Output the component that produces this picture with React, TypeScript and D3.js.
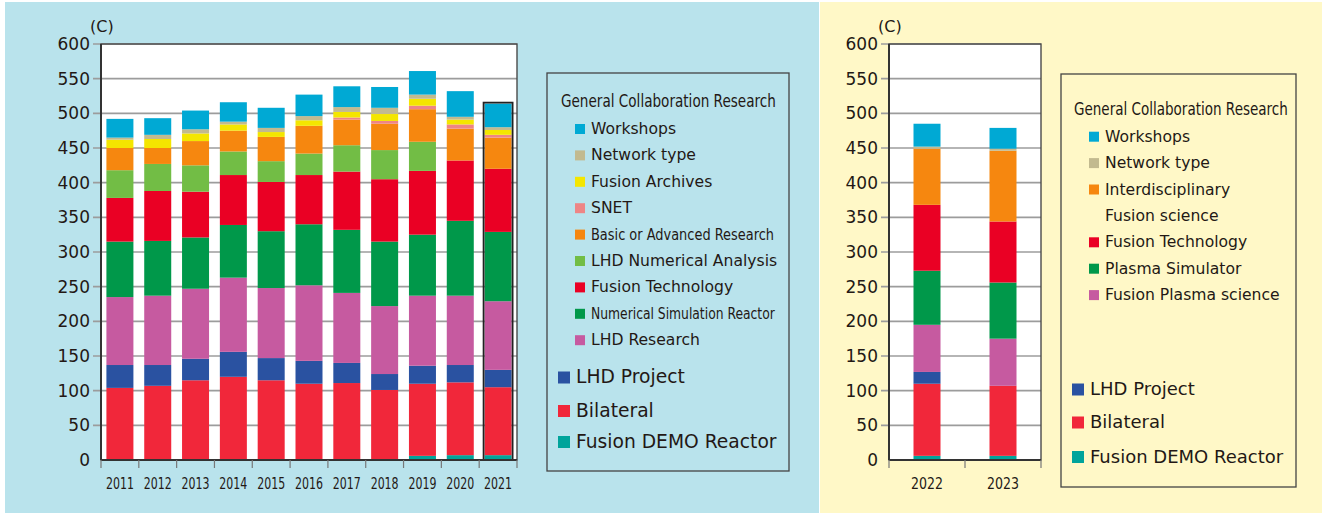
import React, { useRef, useEffect } from 'react'
import * as d3 from 'd3'

// ---- left panel: 2011-2021 ----
const yearsA = ['2011', '2012', '2013', '2014', '2015', '2016', '2017', '2018', '2019', '2020', '2021']
// stack order, bottom first
const demoA = [0, 0, 0, 0, 0, 0, 0, 0, 6, 7, 7]
const bilateralA = [104, 107, 115, 120, 115, 110, 111, 101, 104, 105, 98]
const lhdProjectA = [33, 30, 31, 36, 32, 33, 29, 23, 26, 25, 25]
const lhdResearchA = [98, 100, 101, 107, 101, 109, 101, 98, 101, 100, 99]
const numSimReactorA = [80, 79, 74, 76, 82, 88, 91, 93, 88, 108, 100]
const fusionTechA = [63, 72, 66, 72, 71, 71, 84, 90, 92, 87, 91]
const lhdNumericalA = [40, 39, 38, 34, 30, 31, 38, 42, 42, 0, 0]
const basicAdvancedA = [32, 23, 35, 30, 35, 40, 37, 38, 47, 46, 45]
const snetA = [0, 0, 0, 0, 0, 0, 3, 4, 5, 6, 4]
const archivesA = [12, 13, 11, 9, 7, 8, 8, 10, 10, 7, 7]
const networkA = [3, 6, 6, 4, 6, 6, 7, 9, 6, 4, 4]
const workshopsA = [27, 24, 27, 28, 29, 31, 30, 30, 34, 37, 34]

// ---- right panel: 2022-2023 ----
const yearsB = ['2022', '2023']
const demoB = [6, 6]
const bilateralB = [104, 101]
const lhdProjectB = [17, 0]
const plasmaScienceB = [68, 68]
const plasmaSimB = [78, 81]
const fusionTechB = [95, 88]
const interdiscB = [81, 102]
const networkB = [3, 3]
const workshopsB = [33, 30]

const yTicks = [0, 50, 100, 150, 200, 250, 300, 350, 400, 450, 500, 550, 600]

const C = {
  workshops: '#00a9d4',
  network: '#c2ba8f',
  archives: '#f4e600',
  snet: '#ee8585',
  orange: '#f6870f',
  lhdNum: '#72bd45',
  fusionTech: '#ea0024',
  simGreen: '#00984a',
  magenta: '#c65aa0',
  lhdProject: '#2a52a1',
  bilateral: '#f1273a',
  demo: '#00a49b',
}

interface Series { key: string; color: string; values: number[] }

const seriesA: Series[] = [
  { key: 'demo', color: C.demo, values: demoA },
  { key: 'bilateral', color: C.bilateral, values: bilateralA },
  { key: 'lhdProject', color: C.lhdProject, values: lhdProjectA },
  { key: 'lhdResearch', color: C.magenta, values: lhdResearchA },
  { key: 'nsr', color: C.simGreen, values: numSimReactorA },
  { key: 'ft', color: C.fusionTech, values: fusionTechA },
  { key: 'lhdNum', color: C.lhdNum, values: lhdNumericalA },
  { key: 'basic', color: C.orange, values: basicAdvancedA },
  { key: 'snet', color: C.snet, values: snetA },
  { key: 'archives', color: C.archives, values: archivesA },
  { key: 'network', color: C.network, values: networkA },
  { key: 'workshops', color: C.workshops, values: workshopsA },
]

const seriesB: Series[] = [
  { key: 'demo', color: C.demo, values: demoB },
  { key: 'bilateral', color: C.bilateral, values: bilateralB },
  { key: 'lhdProject', color: C.lhdProject, values: lhdProjectB },
  { key: 'fps', color: C.magenta, values: plasmaScienceB },
  { key: 'ps', color: C.simGreen, values: plasmaSimB },
  { key: 'ft', color: C.fusionTech, values: fusionTechB },
  { key: 'ifs', color: C.orange, values: interdiscB },
  { key: 'network', color: C.network, values: networkB },
  { key: 'workshops', color: C.workshops, values: workshopsB },
]

interface LegendItem { label: string; color?: string; fit?: number }

const legendSmallA: LegendItem[] = [
  { label: 'Workshops', color: C.workshops },
  { label: 'Network type', color: C.network },
  { label: 'Fusion Archives', color: C.archives },
  { label: 'SNET', color: C.snet },
  { label: 'Basic or Advanced Research', color: C.orange, fit: 183 },
  { label: 'LHD Numerical Analysis', color: C.lhdNum },
  { label: 'Fusion Technology', color: C.fusionTech },
  { label: 'Numerical Simulation Reactor', color: C.simGreen, fit: 184 },
  { label: 'LHD Research', color: C.magenta },
]
const legendSmallB: LegendItem[] = [
  { label: 'Workshops', color: C.workshops },
  { label: 'Network type', color: C.network },
  { label: 'Interdisciplinary', color: C.orange },
  { label: 'Fusion science' },
  { label: 'Fusion Technology', color: C.fusionTech },
  { label: 'Plasma Simulator', color: C.simGreen },
  { label: 'Fusion Plasma science', color: C.magenta },
]
const legendLarge: LegendItem[] = [
  { label: 'LHD Project', color: C.lhdProject },
  { label: 'Bilateral', color: C.bilateral },
  { label: 'Fusion DEMO Reactor', color: C.demo },
]

const W = 1322
const H = 513
const TXT = '#231815'
const FONT = '"DejaVu Sans", sans-serif'

type G = d3.Selection<SVGGElement, unknown, null, undefined>

// squeeze a text horizontally to a target width (condensed look)
function fitText(g: G, x: number, y: number, size: number, width: number, label: string) {
  const t = g.append('text')
    .attr('font-family', FONT).attr('font-size', size)
    .attr('fill', TXT)
    .text(label)
  const natural = (t.node() as SVGTextElement).getComputedTextLength() || width
  t.attr('transform', `translate(${x},${y}) scale(${width / natural},1)`)
}

function drawPlot(
  g: G,
  years: string[],
  series: Series[],
  x0: number,
  x1: number,
  highlight: number,
  yearWidth: number,
) {
  const top = 44
  const bottom = 460
  const barW = 27
  const y = d3.scaleLinear().domain([0, 600]).range([bottom, top])
  const x = d3.scaleBand().domain(years).range([x0, x1])

  g.append('rect')
    .attr('x', x0).attr('y', top)
    .attr('width', x1 - x0).attr('height', bottom - top)
    .attr('fill', '#fff')

  // grid + ticks
  g.selectAll('line.grid')
    .data(yTicks.filter(t => t > 0))
    .join('line')
    .attr('x1', x0 - 8).attr('x2', x1)
    .attr('y1', d => y(d)).attr('y2', d => y(d))
    .attr('stroke', '#9c9c9c').attr('stroke-width', 1.6)

  g.selectAll('text.ytick')
    .data(yTicks)
    .join('text')
    .attr('x', x0 - 11)
    .attr('y', d => y(d) + 6)
    .attr('text-anchor', 'end')
    .attr('font-family', FONT)
    .attr('font-size', 17)
    .attr('fill', TXT)
    .text(d => d)

  g.append('text')
    .attr('x', x0 - 11).attr('y', 32)
    .attr('font-family', FONT).attr('font-size', 16)
    .attr('fill', TXT)
    .text('(C)')

  const rows = years.map((yr, i) => {
    const r: Record<string, number | string> = { year: yr }
    series.forEach(s => { r[s.key] = s.values[i] })
    return r
  })
  const stacked = d3.stack<Record<string, number | string>>()
    .keys(series.map(s => s.key))(rows as any)

  const bx = (yr: string) => (x(yr) as number) + (x.bandwidth() - barW) / 2

  stacked.forEach((layer, li) => {
    g.append('g')
      .selectAll('rect')
      .data(layer)
      .join('rect')
      .attr('x', d => bx(d.data.year as string))
      .attr('width', barW)
      .attr('y', d => y(d[1]))
      .attr('height', d => Math.max(0, y(d[0]) - y(d[1])))
      .attr('fill', series[li].color)
  })

  if (highlight >= 0) {
    const last = stacked[stacked.length - 1][highlight]
    g.append('rect')
      .attr('x', bx(years[highlight]) - 1)
      .attr('y', y(last[1]) - 1)
      .attr('width', barW + 2)
      .attr('height', y(0) - y(last[1]) + 1)
      .attr('fill', 'none')
      .attr('stroke', '#222')
      .attr('stroke-width', 1.8)
  }

  // frame
  g.append('rect')
    .attr('x', x0).attr('y', top)
    .attr('width', x1 - x0).attr('height', bottom - top)
    .attr('fill', 'none').attr('stroke', '#4a4a4a').attr('stroke-width', 1.4)
  g.append('line')
    .attr('x1', x0).attr('x2', x0).attr('y1', top).attr('y2', bottom)
    .attr('stroke', '#333').attr('stroke-width', 2)
  g.append('line')
    .attr('x1', x0).attr('x2', x1).attr('y1', bottom).attr('y2', bottom)
    .attr('stroke', '#333').attr('stroke-width', 2)

  // x ticks on band boundaries
  const bounds = years.map(yr => x(yr) as number).concat([x1])
  g.selectAll('line.xtick')
    .data(bounds)
    .join('line')
    .attr('x1', d => d).attr('x2', d => d)
    .attr('y1', bottom).attr('y2', bottom + 8)
    .attr('stroke', '#777').attr('stroke-width', 1.2)

  g.selectAll('text.xlab')
    .data(years)
    .join('text')
    .attr('x', d => (x(d) as number) + x.bandwidth() / 2)
    .attr('y', 489)
    .attr('text-anchor', 'middle')
    .attr('font-family', FONT)
    .attr('font-size', 15)
    .attr('textLength', yearWidth)
    .attr('lengthAdjust', 'spacingAndGlyphs')
    .attr('fill', TXT)
    .text(d => d)
}

function drawLegend(
  g: G,
  box: [number, number, number, number],
  titleX: number, titleY: number, titleW: number,
  small: LegendItem[], sqX: number, firstY: number, step: number,
  large: LegendItem[], lgX: number, lgYs: number[], lgSize: number,
) {
  g.append('rect')
    .attr('x', box[0]).attr('y', box[1])
    .attr('width', box[2]).attr('height', box[3])
    .attr('fill', 'none').attr('stroke', '#444').attr('stroke-width', 1.3)

  fitText(g, titleX, titleY, 18, titleW, 'General Collaboration Research')

  small.forEach((it, i) => {
    const by = firstY + i * step
    if (it.color) {
      g.append('rect')
        .attr('x', sqX).attr('y', by - 10)
        .attr('width', 10).attr('height', 10)
        .attr('fill', it.color)
    }
    if (it.fit) {
      fitText(g, sqX + 16, by, 15.6, it.fit, it.label)
    } else {
      g.append('text')
        .attr('x', sqX + 16).attr('y', by)
        .attr('font-family', FONT).attr('font-size', 15.6)
        .attr('fill', TXT)
        .text(it.label)
    }
  })

  large.forEach((it, i) => {
    const by = lgYs[i]
    g.append('rect')
      .attr('x', lgX).attr('y', by - 11.5)
      .attr('width', 12).attr('height', 12)
      .attr('fill', it.color as string)
    g.append('text')
      .attr('x', lgX + 18).attr('y', by)
      .attr('font-family', FONT).attr('font-size', lgSize)
      .attr('fill', TXT)
      .text(it.label)
  })
}

const App: React.FC = () => {
  const svgRef = useRef<SVGSVGElement | null>(null)

  useEffect(() => {
    if (!svgRef.current) return
    const svg = d3.select(svgRef.current)
    svg.selectAll('*').remove()

    svg.append('rect').attr('width', W).attr('height', H).attr('fill', '#fff')
    svg.append('rect').attr('x', 5).attr('y', 2).attr('width', 814).attr('height', H - 2).attr('fill', '#b9e3ec')
    svg.append('rect').attr('x', 820).attr('y', 2).attr('width', W - 820).attr('height', H - 2).attr('fill', '#fff8c7')

    const left = svg.append('g') as unknown as G
    drawPlot(left, yearsA, seriesA, 101, 517, 10, 28)
    drawLegend(left, [547, 73, 242, 398], 561, 107, 215,
      legendSmallA, 575, 134, 26.4,
      legendLarge, 558, [383, 416.5, 447.5], 18.7)

    const right = svg.append('g') as unknown as G
    drawPlot(right, yearsB, seriesB, 889, 1041, -1, 32)
    drawLegend(right, [1061, 74, 235, 413], 1074, 115, 214,
      legendSmallB, 1089, 141.7, 26.4,
      legendLarge, 1072, [395, 428, 462.5], 18)
  }, [])

  return (
    <div style={{ position: 'absolute', left: 0, top: 0 }}>
      <svg ref={svgRef} width={W} height={H} style={{ display: 'block' }} />
    </div>
  )
}

export default App
